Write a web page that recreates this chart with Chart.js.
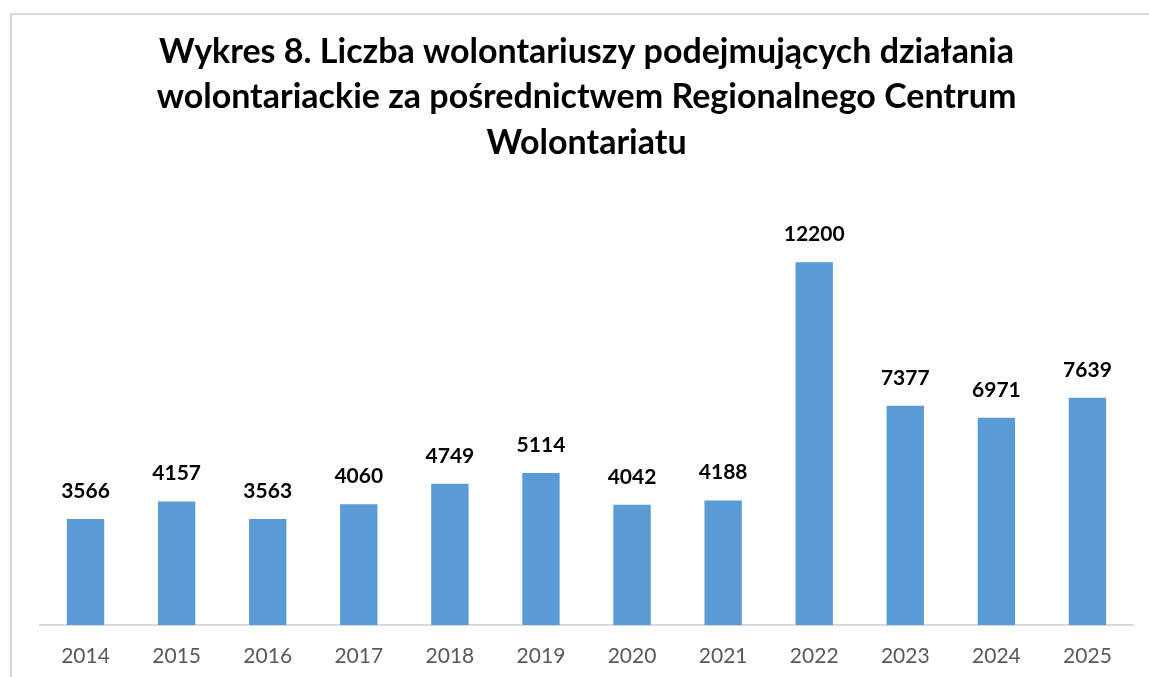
<!DOCTYPE html>
<html>
<head>
<meta charset="utf-8">
<script src="https://cdn.jsdelivr.net/npm/chart.js@4"></script>
<style>
  html, body { margin: 0; padding: 0; background: #fff; overflow: hidden; }
  #frame { position: absolute; left: 10px; top: 13px; width: 1300px; height: 800px; border: 2px solid #d9d9d9; }
  #chart { position: absolute; left: 0; top: 0; }
</style>
</head>
<body>
<div id="frame"></div>
<canvas id="chart" width="1149" height="677"></canvas>
<script>
// dane do wykresu
var lata = ['2014', '2015', '2016', '2017', '2018', '2019', '2020', '2021', '2022', '2023', '2024', '2025'];
var wolontariusze = [3566, 4157, 3563, 4060, 4749, 5114, 4042, 4188, 12200, 7377, 6971, 7639];
var tytul = [
    'Wykres 8. Liczba wolontariuszy podejmujących działania',
    'wolontariackie za pośrednictwem Regionalnego Centrum',
    'Wolontariatu'
];

// etykiety nad słupkami
var etykiety = {
    id: 'etykiety',
    afterDatasetsDraw: function (chart) {
        var ctx = chart.ctx;
        var meta = chart.getDatasetMeta(0);
        ctx.save();
        ctx.font = 'bold 21px Lato';
        ctx.fillStyle = '#000';
        ctx.textAlign = 'center';
        ctx.textBaseline = 'alphabetic';
        for (var i = 0; i < meta.data.length; i++) {
            var bar = meta.data[i];
            ctx.fillText(wolontariusze[i], bar.x, bar.y - 21);
        }
        ctx.restore();
    }
};

var path = document.getElementById('chart');
new Chart(path, {
    type: 'bar',
    data: {
        labels: lata,
        datasets: [{
            data: wolontariusze,
            backgroundColor: '#5b9bd5',
            categoryPercentage: 1,
            barPercentage: 0.41
        }]
    },
    options: {
        responsive: false,
        maintainAspectRatio: false,
        animation: false,
        layout: {
            padding: { left: 40, right: 16, top: 0, bottom: 8 }
        },
        plugins: {
            legend: { display: false },
            tooltip: { enabled: false },
            title: {
                display: true,
                text: tytul,
                color: '#000',
                font: { family: 'Lato', size: 34, weight: 'bold', lineHeight: 1.34 },
                padding: { top: 29, bottom: 43 }
            }
        },
        scales: {
            x: {
                grid: { display: false, drawTicks: false },
                border: { display: true, color: '#d9d9d9', width: 2 },
                ticks: {
                    color: '#595959',
                    font: { family: 'Lato', size: 21 },
                    padding: 19
                },
                afterFit: function (scale) {
                    scale.height = 44;
                }
            },
            y: {
                display: false,
                min: 0,
                max: 14000
            }
        }
    },
    plugins: [etykiety]
});
</script>
</body>
</html>
